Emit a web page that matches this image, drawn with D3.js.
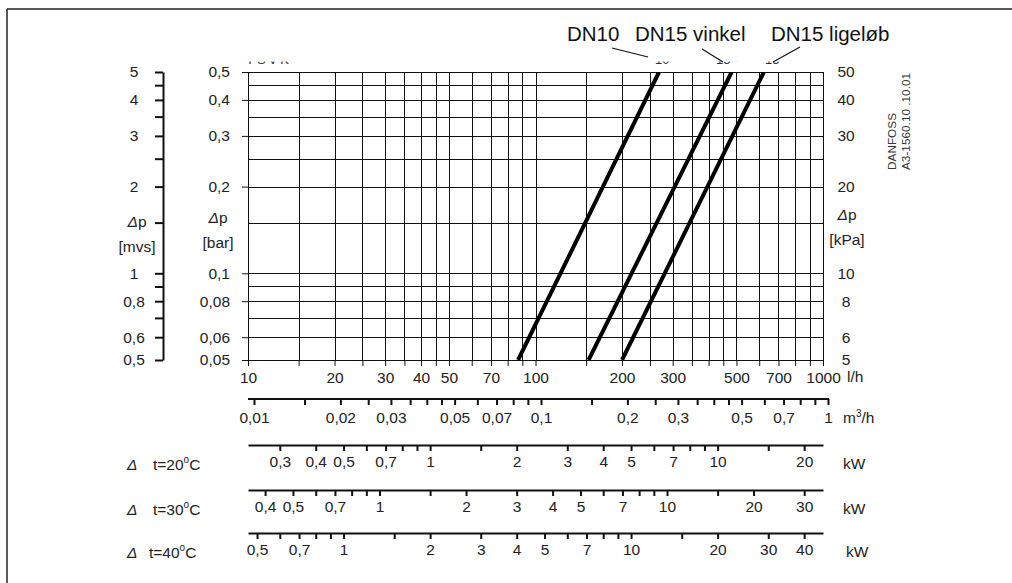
<!DOCTYPE html>
<html><head><meta charset="utf-8">
<script src="https://cdn.jsdelivr.net/npm/d3@7"></script>
<style>
body{margin:0;background:#fff;}
svg{display:block;font-family:"Liberation Sans",Arial,Helvetica,sans-serif;}
.tk text{font-size:15.5px;fill:#222;}
</style></head><body>
<svg id="c" width="1012" height="583"></svg>
<script>
// ---- data ----
const flowGrid = [10,15,20,25,30,35,40,45,50,60,70,80,90,100,150,200,250,300,350,400,450,500,600,700,800,900,1000];
const flowLabels = [10,20,30,40,50,70,100,200,300,500,700,1000];
const dpGrid = [0.05,0.06,0.07,0.08,0.09,0.1,0.15,0.2,0.25,0.3,0.35,0.4,0.45,0.5];
const barLabels = [0.05,0.06,0.08,0.1,0.2,0.3,0.4,0.5];
const mvsLabels = [0.5,0.6,0.8,1,2,3,4,5];
const kpaLabels = [5,6,8,10,20,30,40,50];
const m3Ticks = [0.01,0.015,0.02,0.025,0.03,0.035,0.04,0.045,0.05,0.06,0.07,0.08,0.09,0.1,0.15,0.2,0.25,0.3,0.35,0.4,0.45,0.5,0.6,0.7,0.8,0.9,1];
const m3Labels = [0.01,0.02,0.03,0.05,0.07,0.1,0.2,0.3,0.5,0.7,1];
const dtRows = [20,30,40];
const kwTicks = {
  20:[0.3,0.4,0.5,0.6,0.7,0.8,0.9,1,1.5,2,3,4,5,6,7,8,9,10,15,20],
  30:[0.4,0.5,0.6,0.7,0.8,0.9,1,1.5,2,3,4,5,6,7,8,9,10,15,20,30],
  40:[0.5,0.6,0.7,0.8,0.9,1,1.5,2,3,4,5,6,7,8,9,10,15,20,30,40]
};
const kwLabels = {
  20:[0.3,0.4,0.5,0.7,1,2,3,4,5,7,10,20],
  30:[0.4,0.5,0.7,1,2,3,4,5,7,10,20,30],
  40:[0.5,0.7,1,2,3,4,5,7,10,20,30,40]
};
const seriesNames = ["DN10","DN15 vinkel","DN15 ligeløb"];
const seriesFlow = [[87,269],[153,481],[200,623]];   // l/h
const seriesDp = [[0.05,0.5],[0.05,0.5],[0.05,0.5]];  // bar

// ---- setup ----
const svg = d3.select("#c");
const fmt = v => String(v).replace(".", ",");
const X0=248, X1=823, Y0=360, Y1=72;
const FS=15.5;
const x = d3.scaleLog().domain([10,1000]).range([X0,X1]);
const y = d3.scaleLog().domain([0.05,0.5]).range([Y0,Y1]);
const ink="#222";

// frame
svg.append("line").attr("x1",7).attr("x2",1012).attr("y1",9).attr("y2",9).attr("stroke",ink).attr("stroke-width",1.5);
svg.append("line").attr("x1",7).attr("x2",7).attr("y1",9).attr("y2",583).attr("stroke",ink).attr("stroke-width",1.5);

// grid
const g = svg.append("g");
g.selectAll(".h").data(dpGrid).join("line")
  .attr("x1",X0).attr("x2",X1).attr("y1",d=>Math.round(y(d))+0.5).attr("y2",d=>Math.round(y(d))+0.5)
  .attr("stroke","#111").attr("stroke-width",1);
g.selectAll(".v").data(flowGrid).join("line")
  .attr("x1",d=>Math.round(x(d))+0.5).attr("x2",d=>Math.round(x(d))+0.5).attr("y1",Y1).attr("y2",Y0)
  .attr("stroke","#111").attr("stroke-width",1);

// bottom l/h axis
const ax = svg.append("g").attr("class","tk").attr("transform",`translate(0,${Y0})`)
  .call(d3.axisBottom(x).tickValues(flowGrid).tickSize(6).tickSizeOuter(0).tickPadding(6)
    .tickFormat(d=>flowLabels.includes(d)?fmt(d):""));
ax.selectAll("line,path").attr("stroke","#111");
svg.append("text").attr("x",847).attr("y",Y0+22).attr("font-size",FS).attr("fill",ink).text("l/h");

// left bar axis
const ab = svg.append("g").attr("class","tk").attr("transform",`translate(${X0},0)`)
  .call(d3.axisLeft(y).tickValues(barLabels).tickSize(6).tickPadding(12).tickFormat(fmt));
ab.select(".domain").remove();
ab.selectAll("line").attr("stroke","#111");

// mvs axis
const ymvs = d3.scaleLog().domain([0.5,5]).range([Y0,Y1]);
const am = svg.append("g").attr("transform","translate(163,0)")
  .call(d3.axisLeft(ymvs).tickValues(dpGrid.map(d=>+(d*10).toFixed(2))).tickSize(8).tickSizeOuter(0).tickFormat(""));
am.select(".domain").attr("stroke","#111").attr("stroke-width",2);
am.selectAll("line").attr("stroke","#111").attr("stroke-width",2);
svg.append("g").selectAll("text").data(mvsLabels).join("text")
  .attr("x",134).attr("y",d=>ymvs(d)).attr("dy","0.35em").attr("text-anchor","middle")
  .attr("font-size",FS).attr("fill",ink).text(fmt);

// kPa labels
const ykpa = d3.scaleLog().domain([5,50]).range([Y0,Y1]);
svg.append("g").selectAll("text").data(kpaLabels).join("text")
  .attr("x",846).attr("y",d=>ykpa(d)).attr("dy","0.35em").attr("text-anchor","middle")
  .attr("font-size",FS).attr("fill",ink).text(fmt);

// Δp unit labels
function dpLabel(cx, cy, unit){
  const t = svg.append("text").attr("x",cx).attr("y",cy).attr("text-anchor","middle").attr("font-size",FS).attr("fill",ink);
  t.append("tspan").attr("font-style","italic").text("Δ");
  t.append("tspan").text("p");
  svg.append("text").attr("x",cx).attr("y",cy+25).attr("text-anchor","middle").attr("font-size",FS).attr("fill",ink).text(unit);
}
dpLabel(137,227,"[mvs]");
dpLabel(218,223,"[bar]");
dpLabel(847,220,"[kPa]");

// series lines
svg.append("clipPath").attr("id","plot").append("rect").attr("x",X0).attr("y",Y1).attr("width",X1-X0).attr("height",Y0-Y1);
const line = d3.line().x(d=>x(d[0])).y(d=>y(d[1]));
svg.append("g").attr("clip-path","url(#plot)").selectAll("path").data(seriesFlow.map((f,i)=>f.map((v,j)=>[v,seriesDp[i][j]])))
  .join("path").attr("d",line).attr("fill","none").attr("stroke","#000").attr("stroke-width",4);

// legend texts + leaders
const legX = [567,635,771];
const leaders = [[612,48,648,57],[702,49,723,62],[800,47,773,62]];
svg.append("g").selectAll("text").data(seriesNames).join("text")
  .attr("x",(d,i)=>legX[i]).attr("y",41).attr("font-size",20.5).attr("fill","#111").text(d=>d);
svg.append("g").selectAll("line").data(leaders).join("line")
  .attr("x1",d=>d[0]).attr("y1",d=>d[1]).attr("x2",d=>d[2]).attr("y2",d=>d[3]).attr("stroke","#111").attr("stroke-width",1.2);

// clipped fragments of labels at top
svg.append("clipPath").attr("id","frag").append("rect").attr("x",0).attr("y",61.5).attr("width",1012).attr("height",4);
const frag = svg.append("g").attr("clip-path","url(#frag)").attr("fill","#333").attr("font-size",13);
frag.append("text").attr("x",246).attr("y",64).attr("letter-spacing",3).text("TSVK");
frag.append("text").attr("x",655).attr("y",64).text("10");
frag.append("text").attr("x",716).attr("y",64).text("15 ·");
frag.append("text").attr("x",765).attr("y",64).text("15");

// m3/h axis
const xm = d3.scaleLog().domain([0.01,1]).range([254,828]);
svg.append("line").attr("x1",248).attr("x2",829).attr("y1",399).attr("y2",399).attr("stroke","#111").attr("stroke-width",2);
const amh = svg.append("g").attr("class","tk").attr("transform","translate(0,399)")
  .call(d3.axisBottom(xm).tickValues(m3Ticks).tickSize(6).tickSizeOuter(0).tickPadding(7)
    .tickFormat(d=>m3Labels.includes(d)?fmt(d):""));
amh.select(".domain").remove();
amh.selectAll("line").attr("stroke","#111").attr("stroke-width",2);
const mt = svg.append("text").attr("x",843).attr("y",423).attr("font-size",FS).attr("fill",ink);
mt.append("tspan").text("m");
mt.append("tspan").attr("font-size",10).attr("dy",-6).text("3");
mt.append("tspan").attr("dy",6).text("/h");

// kW axes
const rowY = [445,490,533];
dtRows.forEach((dt,i)=>{
  const xk = d3.scaleLog().domain([10*dt/860,1000*dt/860]).range([X0,X1]);
  const a = svg.append("g").attr("class","tk").attr("transform",`translate(0,${rowY[i]})`)
    .call(d3.axisBottom(xk).tickValues(kwTicks[dt]).tickSize(6).tickSizeOuter(0).tickPadding(5)
      .tickFormat(d=>kwLabels[dt].includes(d)?fmt(d):""));
  a.select(".domain").attr("stroke","#111").attr("stroke-width",2);
  a.selectAll("line").attr("stroke","#111").attr("stroke-width",2);
  svg.append("text").attr("x",i===2?846:843).attr("y",rowY[i]+24).attr("font-size",FS).attr("fill",ink).text("kW");
  const t = svg.append("text").attr("x",127).attr("y",rowY[i]+25).attr("font-size",FS).attr("fill",ink);
  t.append("tspan").attr("font-style","italic").text("Δ");
  t.append("tspan").attr("x",i===2?149:153).text("t="+dt);
  t.append("tspan").attr("font-size",10).attr("dy",-7).text("o");
  t.append("tspan").attr("dy",7).text("C");
});

// rotated stamp
svg.append("text").attr("transform","translate(896,170) rotate(-90)").attr("font-size",11.8).attr("fill","#333").text("DANFOSS");
svg.append("text").attr("transform","translate(910,170) rotate(-90)").attr("font-size",11.8).attr("fill","#333").text("A3-1560.10 .10.01");
</script></body></html>
